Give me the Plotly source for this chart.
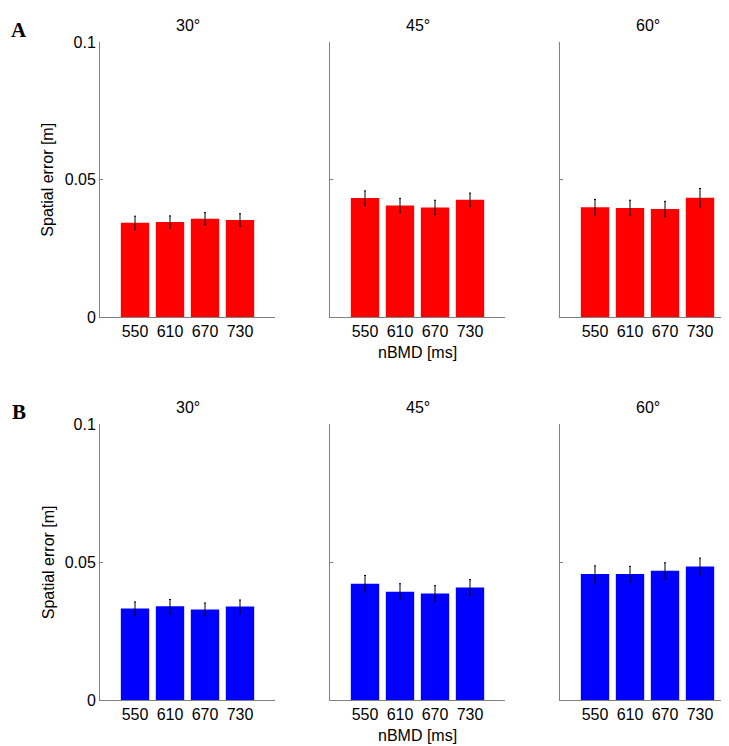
import plotly.graph_objects as go

# nBMD conditions and angles
nbmd = ["550", "610", "670", "730"]
angles = ["30°", "45°", "60°"]

# panel A (red) - spatial error means and error bars, one list per angle
a_30 = [0.0343, 0.0346, 0.0358, 0.0353]
a_30_err = [0.0024, 0.0022, 0.0022, 0.0023]
a_45 = [0.0433, 0.0406, 0.0399, 0.0427]
a_45_err = [0.0026, 0.0026, 0.0026, 0.0024]
a_60 = [0.0400, 0.0397, 0.0393, 0.0434]
a_60_err = [0.0028, 0.0028, 0.0028, 0.0034]

# panel B (blue)
b_30 = [0.0332, 0.0340, 0.0329, 0.0339]
b_30_err = [0.0024, 0.0025, 0.0023, 0.0024]
b_45 = [0.0422, 0.0393, 0.0387, 0.0408]
b_45_err = [0.0030, 0.0029, 0.0028, 0.0029]
b_60 = [0.0457, 0.0457, 0.0469, 0.0485]
b_60_err = [0.0030, 0.0028, 0.0029, 0.0030]

W, H = 729, 746
font = "Arial, Liberation Sans, sans-serif"
axcol = "#808080"
fs = 16

# pixel layout of the panels
xdom_px = [(92, 267), (322, 497), (552, 727)]
ydom_px = [(27, 308), (418, 700)]

rows = [
    ([a_30, a_45, a_60], [a_30_err, a_45_err, a_60_err], "#ff0000"),
    ([b_30, b_45, b_60], [b_30_err, b_45_err, b_60_err], "#0000ff"),
]


def note(text, xp, yp, size=fs, fam=font, angle=0):
    return dict(text=text, x=xp / W, y=1 - yp / H, xref="paper", yref="paper",
                xanchor="center", yanchor="middle", showarrow=False, textangle=angle,
                font=dict(family=fam, size=size, color="black"))


fig = go.Figure()
annotations = []
k = 0
for r, (vals, errs, col) in enumerate(rows):
    y0, y1 = ydom_px[r]
    for c in range(3):
        k += 1
        xa = "x" if k == 1 else f"x{k}"
        ya = "y" if k == 1 else f"y{k}"
        fig.add_trace(go.Bar(
            x=nbmd, y=vals[c], width=0.81,
            marker=dict(color=col, line=dict(width=0)),
            error_y=dict(type="data", array=errs[c], color="black", thickness=1, width=1),
            xaxis=xa, yaxis=ya, showlegend=False,
        ))
        x0, x1 = xdom_px[c]
        fig.layout[f"xaxis{'' if k == 1 else k}"] = dict(
            domain=[x0 / W, x1 / W], anchor=ya, type="category", range=[-1, 4],
            showline=True, linecolor=axcol, linewidth=1, ticks="", showgrid=False,
            zeroline=False, tickfont=dict(family=font, size=fs, color="black"),
            fixedrange=True,
        )
        fig.layout[f"yaxis{'' if k == 1 else k}"] = dict(
            domain=[1 - y1 / H, 1 - y0 / H], anchor=xa, range=[0, 0.1],
            tickvals=[0, 0.05, 0.1], ticktext=["0", "0.05", "0.1"],
            showticklabels=(c == 0), ticks="inside", ticklen=3, tickcolor=axcol,
            showline=True, linecolor=axcol, linewidth=1, showgrid=False, zeroline=False,
            tickfont=dict(family=font, size=fs, color="black"),
            fixedrange=True,
        )
        annotations.append(note(angles[c], (x0 + x1) / 2, y0 - 17))
    # shared labels for the row
    annotations.append(note("nBMD [ms]", (xdom_px[1][0] + xdom_px[1][1]) / 2, y1 + 36))
    annotations.append(note("Spatial error [m]", 40, (y0 + y1) / 2, angle=-90))
    annotations.append(note("<b>" + "AB"[r] + "</b>", 11, y0 - 13, size=21,
                            fam="Liberation Serif, Times New Roman, serif"))

fig.update_layout(
    width=W, height=H, margin=dict(l=0, r=0, t=0, b=0),
    paper_bgcolor="white", plot_bgcolor="white",
    annotations=annotations,
)
fig.write_html("out.html")
